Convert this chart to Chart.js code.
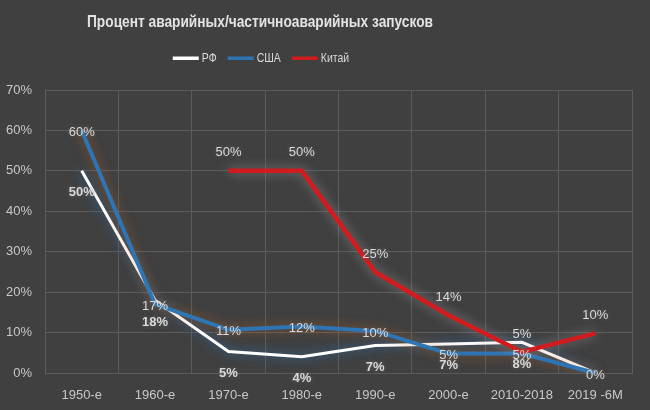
<!DOCTYPE html>
<html><head><meta charset="utf-8">
<script src="https://cdn.jsdelivr.net/npm/chart.js@4/dist/chart.umd.min.js"></script>
<style>html,body{margin:0;padding:0;background:#404040;}#wrap{width:650px;height:410px;}</style>
</head><body><div id="wrap"><canvas id="c" width="650" height="410"></canvas></div>
<script>
const categories = ['1950-е','1960-е','1970-е','1980-е','1990-е','2000-е','2010-2018','2019 -6М'];
const rfValues = [50, 18, 5.3, 4, 6.8, 7.2, 7.6, 0];
const usaValues = [60, 17, 10.7, 11.5, 10.4, 4.8, 4.8, 0];
const chinaValues = [null, null, 50, 50, 25, 14.3, 5.2, 9.8];
const yTicks = [0,10,20,30,40,50,60,70];
const seriesNames = ['РФ','США','Китай'];
const titleText = 'Процент аварийных/частичноаварийных запусков';

const colors = ['#ffffff','#2e75b6','#d01c1f'];
const glows = ['rgba(46,117,182,0.95)','rgba(200,100,30,0.6)','rgba(190,190,190,0.5)'];
const labelOffsets = [22, 2, -18];
const labelBold = [true, false, false];
const FONT = '"Liberation Sans", Arial, sans-serif';

function scaledText(c, text, x, y, sx, align){
  const w = c.measureText(text).width * sx;
  let left = x;
  if(align==='center') left = x - w/2;
  c.save();
  c.translate(left, y);
  c.scale(sx, 1);
  c.textAlign='left';
  c.fillText(text, 0, 0);
  c.restore();
  return w;
}

const bgPlugin = {
  id:'bg',
  beforeDraw(chart){const c=chart.ctx;c.save();c.fillStyle='#404040';c.fillRect(0,0,chart.width,chart.height);c.restore();}
};
const glowPlugin = {
  id:'glow',
  beforeDatasetDraw(chart,args){const c=chart.ctx;c.save();c.shadowColor=glows[args.index];c.shadowBlur=11;},
  afterDatasetDraw(chart){chart.ctx.restore();}
};
const labelPlugin = {
  id:'dlabels',
  afterDatasetsDraw(chart){
    const c=chart.ctx;
    c.save();
    c.textAlign='center';c.textBaseline='middle';
    chart.data.datasets.forEach((ds,i)=>{
      const meta=chart.getDatasetMeta(i);
      meta.data.forEach((pt,j)=>{
        const v=ds.data[j];
        if(v===null||v===undefined)return;
        if(labelOffsets[i]>10 && v===0) return; // hidden behind the axis labels in the reference
        c.font=(labelBold[i]?'bold ':'')+'13px '+FONT;
        c.fillStyle='#d9d9d9';
        c.shadowColor='rgba(120,120,120,0.6)';c.shadowBlur=4;
        c.fillText(Math.round(v)+'%',pt.x,pt.y+labelOffsets[i]);
      });
    });
    c.restore();
  }
};
const headerPlugin = {
  id:'header',
  afterDraw(chart){
    const c=chart.ctx;
    c.save();
    c.textBaseline='middle';
    c.fillStyle='#e3e3e3';
    c.font='bold 17px '+FONT;
    const tw=c.measureText(titleText).width;
    scaledText(c,titleText,260,22,346/tw,'center');
    // legend
    c.font='12.5px '+FONT;
    const sx=0.84;
    const lineW=26, gap=3, itemGap=11;
    let total=0;
    const widths=seriesNames.map(n=>c.measureText(n).width*sx);
    widths.forEach(w=>total+=lineW+gap+w);
    total+=itemGap*(seriesNames.length-1);
    let x=261-total/2;
    const y=58;
    seriesNames.forEach((n,i)=>{
      c.fillStyle=colors[i];
      c.fillRect(x,y-1.5,lineW,3.5);
      x+=lineW+gap;
      c.fillStyle='#d9d9d9';
      scaledText(c,n,x,y+1,sx,'left');
      x+=widths[i]+itemGap;
    });
    c.restore();
  }
};

new Chart(document.getElementById('c'),{
  type:'line',
  data:{
    labels:categories,
    datasets:[
      {label:seriesNames[0],data:rfValues,borderColor:colors[0],backgroundColor:colors[0],borderWidth:3,pointRadius:0,tension:0,order:3},
      {label:seriesNames[1],data:usaValues,borderColor:colors[1],backgroundColor:colors[1],borderWidth:4,pointRadius:0,tension:0,order:2},
      {label:seriesNames[2],data:chinaValues,borderColor:colors[2],backgroundColor:colors[2],borderWidth:4.5,pointRadius:0,tension:0,order:1,spanGaps:false}
    ]
  },
  options:{
    responsive:false,animation:false,
    layout:{padding:{top:90,right:18,left:0,bottom:0}},
    plugins:{legend:{display:false},title:{display:false},tooltip:{enabled:false}},
    scales:{
      x:{
        offset:true,
        grid:{offset:true,color:'#5c5c5c',drawTicks:false},
        border:{color:'#5c5c5c'},
        ticks:{color:'#c8c8c8',font:{size:13,family:FONT},padding:15,maxRotation:0,autoSkip:false},
        afterFit(s){s.height=37;}
      },
      y:{
        min:0,max:70,
        afterBuildTicks(s){s.ticks=yTicks.map(v=>({value:v}));},
        grid:{color:'#5c5c5c',drawTicks:false},
        border:{color:'#5c5c5c'},
        ticks:{color:'#c8c8c8',font:{size:13,family:FONT},padding:13,callback:v=>v+'%'},
        afterFit(s){s.width=45;}
      }
    }
  },
  plugins:[bgPlugin,glowPlugin,labelPlugin,headerPlugin]
});
</script>
</body></html>
